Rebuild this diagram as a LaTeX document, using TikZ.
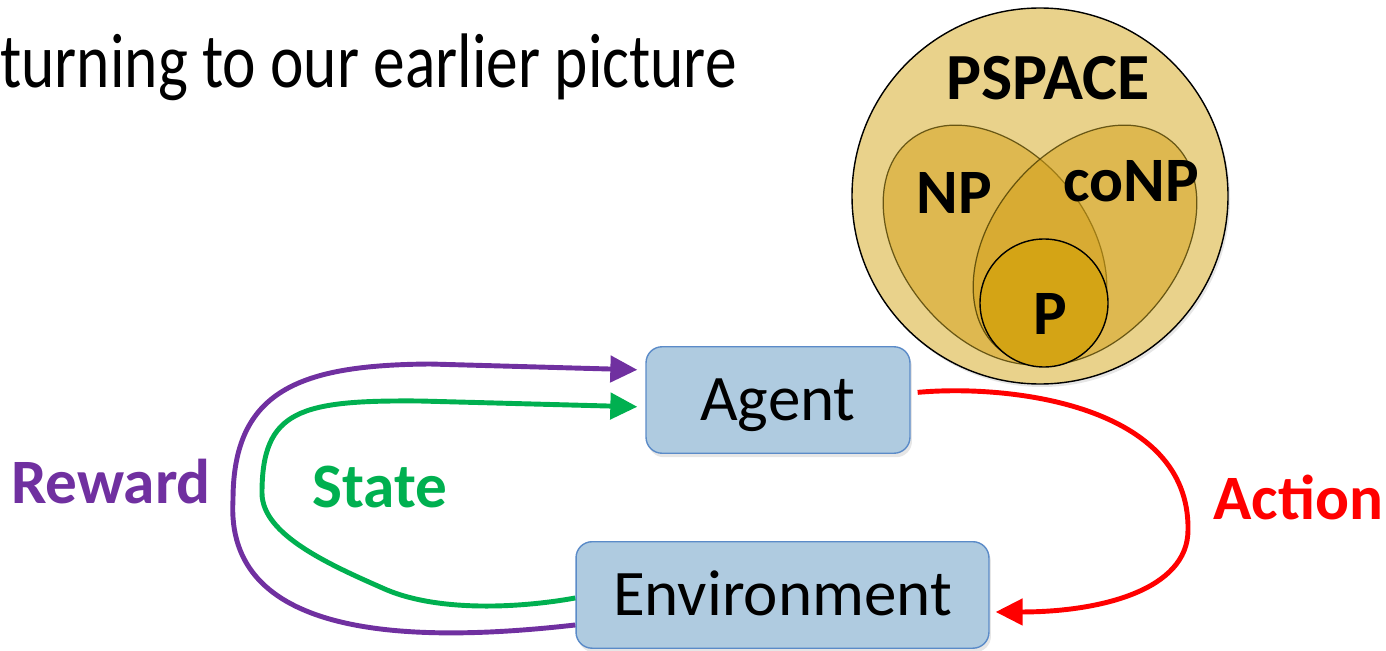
\documentclass[tikz,border=0pt]{standalone}
\usepackage{fontspec}
\setmainfont{Carlito}
\usetikzlibrary{arrows.meta,positioning,shadows}

\definecolor{boxfill}{HTML}{AFCBE0}
\definecolor{boxline}{HTML}{5B8BC8}
\definecolor{rewardcol}{HTML}{7030A0}
\definecolor{statecol}{HTML}{00B050}
\definecolor{actioncol}{HTML}{FF0000}
\definecolor{pspacecol}{HTML}{E9D28B}
\definecolor{goldcol}{HTML}{D4A017}
\definecolor{pcol}{HTML}{D4A415}
\definecolor{rimcol}{HTML}{4A3C00}

\begin{document}
\begin{tikzpicture}[x=0.02cm, y=0.02cm]
    \tikzset{block/.style= {draw=boxline, fill=boxfill, rectangle
    , rounded corners=0.32cm
    , line width=0.8pt
    , minimum height=2.13cm
    , inner sep=0pt
    , font=\fontsize{37}{44}\selectfont
    , text height=23.3pt, text depth=0pt
    , drop shadow={opacity=0.2, shadow xshift=0.04cm, shadow yshift=-0.08cm}
      }
    , flow/.style= {line width=2.8pt, -{Triangle[length=0.54cm, width=0.52cm]}}
    , signal/.style= {anchor=base, inner sep=0pt, font=\fontsize{36}{43}\selectfont\bfseries}
    , classset/.style= {draw=rimcol, draw opacity=0.8, line width=0.7pt
    , fill=goldcol, fill opacity=0.5}
    }

\useasboundingbox (0,0) rectangle (1386,650);

\node [anchor=base west, inner sep=0pt, font=\fontsize{44}{52}\selectfont] (title) at (0,562)
  {\scalebox{0.82}[1]{turning to our earlier picture}};

% complexity classes
\filldraw [fill=pspacecol, draw=black, line width=0.8pt
  , drop shadow={opacity=0.2, shadow xshift=0.04cm, shadow yshift=-0.06cm}]
  (1040,454) circle[radius=188];
\path [classset, rotate around={-50.6:(995,405)}] (995,405) ellipse[x radius=135, y radius=93];
\path [classset, rotate around={50.6:(1085,405)}] (1085,405) ellipse[x radius=135, y radius=93];
\filldraw [fill=pcol, draw=black, line width=0.8pt] (1044,347) circle[radius=64];

\node [signal, font=\fontsize{37.5}{44}\selectfont\bfseries] (pspace) at (1048,550) {PSPACE};
\node [signal] (np) at (954,437) {NP};
\node [signal] (conp) at (1131,448) {coNP};
\node [signal] (p) at (1050,316) {P};

% agent loop
\node [block, minimum width=5.28cm] (agent) at (778,250) {Agent};
\node [block, minimum width=8.26cm, below of=agent, node distance=3.9cm, xshift=0.09cm] (env) {Environment};

\node [signal, text=rewardcol] (reward) at (111,147) {Reward};
\node [signal, text=statecol] (state) at (380,143) {State};
\node [signal, anchor=base west, text=actioncol] (action) at (1213,131) {Action};

 \path[draw, flow, rewardcol, shorten >=0.16cm]
  ([yshift=-0.6cm]env.west) .. controls (400,5) and (225,15) .. (233,150)
  .. controls (233,260) and (300,285) .. (430,286) -- ([yshift=0.6cm]agent.west);
 \path[draw, flow, statecol, shorten >=0.16cm]
  ([yshift=-0.06cm]env.west) .. controls (520,42) and (440,38) .. (387,60)
  .. controls (330,85) and (262,115) .. (262,157)
  .. controls (262,240) and (300,250) .. (420,249) -- ([yshift=-0.14cm]agent.west);
 \path[draw, flow, actioncol, shorten <=0.14cm, shorten >=0.12cm]
  ([yshift=0.14cm]agent.east) .. controls (1010,266) and (1190,245) .. (1188,120)
  .. controls (1188,60) and (1100,38) .. ([yshift=-0.34cm]env.east);
\end{tikzpicture}
\end{document}
